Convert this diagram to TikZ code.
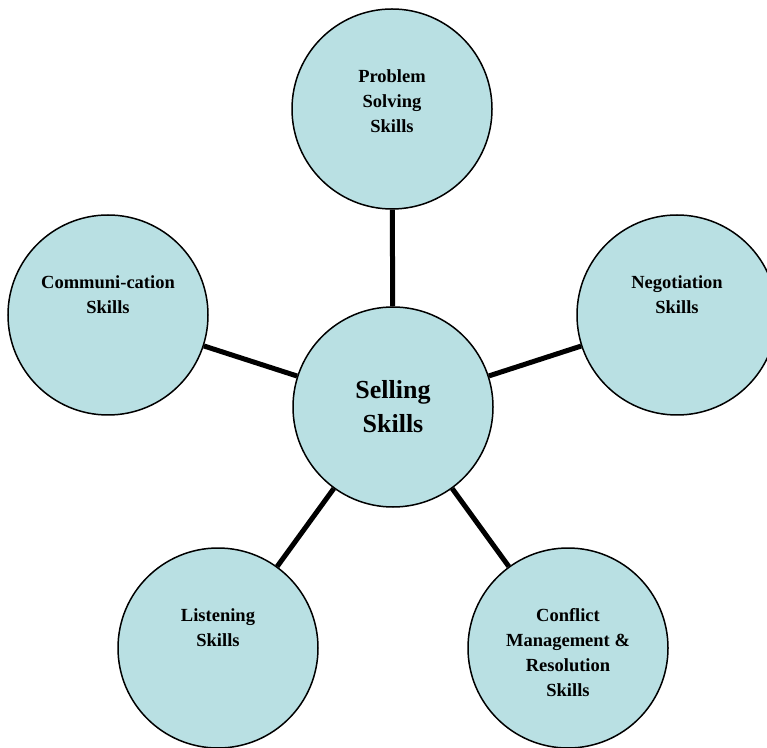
\documentclass[tikz,border=0pt]{standalone}
\usepackage{fontspec}
\setmainfont{Liberation Serif}
\definecolor{skillfill}{RGB}{185,224,227}
\begin{document}
\begin{tikzpicture}[
        x=1pt, y=1pt,
        skill/.style={circle, draw=black, line width=1.5pt, fill=skillfill, minimum size=200pt, inner sep=0pt},
        txt/.style={anchor=north, align=center, inner sep=0pt, font=\fontsize{18.5}{25}\selectfont\bfseries},
        main/.style={align=center, font=\fontsize{26}{34}\selectfont\bfseries},
        link/.style={black, line width=5pt}
    ]
    \useasboundingbox (0,0) rectangle (767,747);
    % Nodes
    \node[skill, main] (sell) at (393, 340) {Selling\\Skills};
    \node[skill] (prob) at (392, 638) {};
    \node[skill] (neg) at (677, 432) {};
    \node[skill] (comm) at (108, 432) {};
    \node[skill] (list) at (218, 99) {};
    \node[skill] (conf) at (568, 99) {};
    % Texts
    \node[txt] (probT) at ([yshift=40pt]prob.center) {Problem\\Solving\\Skills};
    \node[txt] (negT) at ([yshift=40pt]neg.center) {Negotiation\\Skills};
    \node[txt] (commT) at ([yshift=40pt]comm.center) {Communi-cation\\Skills};
    \node[txt] (listT) at ([yshift=40pt]list.center) {Listening\\Skills};
    \node[txt] (confT) at ([yshift=40pt]conf.center) {Conflict\\Management \&\\Resolution\\Skills};
    % Edges
    \draw[link] (sell) -- (prob);
    \draw[link] (sell) -- (neg);
    \draw[link] (sell) -- (comm);
    \draw[link] (sell) -- (list);
    \draw[link] (sell) -- (conf);
\end{tikzpicture}
\end{document}
